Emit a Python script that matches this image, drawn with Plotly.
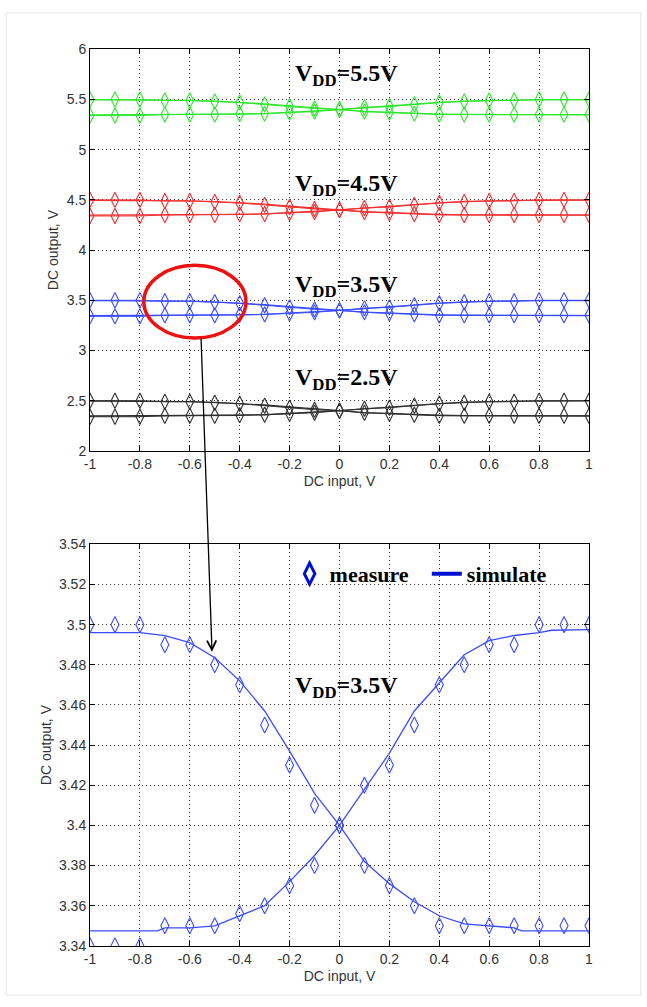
import plotly.graph_objects as go

# ---------------- data ----------------
x_meas = [-1.0, -0.9, -0.8, -0.7, -0.6, -0.5, -0.4, -0.3, -0.2, -0.1, 0.0,
          0.1, 0.2, 0.3, 0.4, 0.5, 0.6, 0.7, 0.8, 0.9, 1.0]
meas_down = [3.50, 3.50, 3.50, 3.49, 3.49, 3.48, 3.47, 3.45, 3.43, 3.41, 3.40,
             3.38, 3.37, 3.36, 3.35, 3.35, 3.35, 3.35, 3.35, 3.35, 3.35]
meas_up = [3.34, 3.34, 3.34, 3.35, 3.35, 3.35, 3.356, 3.36, 3.37, 3.38, 3.40,
           3.42, 3.43, 3.45, 3.47, 3.48, 3.49, 3.49, 3.50, 3.50, 3.50]

sim_down_x = [-1.0, -0.8, -0.7, -0.6, -0.5, -0.4, -0.3, -0.2, -0.1, 0.0,
              0.1, 0.2, 0.3, 0.4, 0.5, 0.6, 0.7, 0.73, 1.0]
sim_down_y = [3.496, 3.496, 3.4945, 3.491, 3.4835, 3.472, 3.457, 3.437, 3.416, 3.400,
              3.382, 3.371, 3.362, 3.355, 3.351, 3.350, 3.349, 3.3475, 3.3475]
sim_up_x = [-1.0, -0.73, -0.7, -0.6, -0.5, -0.4, -0.3, -0.2, -0.1, 0.0,
            0.1, 0.2, 0.3, 0.4, 0.5, 0.6, 0.7, 0.8, 0.85, 1.0]
sim_up_y = [3.3475, 3.3475, 3.349, 3.349, 3.350, 3.355, 3.360, 3.372, 3.385, 3.400,
            3.418, 3.436, 3.457, 3.471, 3.485, 3.492, 3.4946, 3.496, 3.4972, 3.4975]

ref_vdd = 3.5
vdd_levels = [2.5, 3.5, 4.5, 5.5]
vdd_labels = ["V<sub>DD</sub>=2.5V", "V<sub>DD</sub>=3.5V", "V<sub>DD</sub>=4.5V", "V<sub>DD</sub>=5.5V"]
vdd_colors = ["#303030", "#3a4cff", "#f03030", "#2ee62e"]

x_ticks = [-1, -0.8, -0.6, -0.4, -0.2, 0, 0.2, 0.4, 0.6, 0.8, 1]
x_ticktext = ["-1", "-0.8", "-0.6", "-0.4", "-0.2", "0", "0.2", "0.4", "0.6", "0.8", "1"]
top_yticks = [2, 2.5, 3, 3.5, 4, 4.5, 5, 5.5, 6]
top_yticktext = ["2", "2.5", "3", "3.5", "4", "4.5", "5", "5.5", "6"]
bot_yticks = [3.34, 3.36, 3.38, 3.40, 3.42, 3.44, 3.46, 3.48, 3.50, 3.52, 3.54]
bot_yticktext = ["3.34", "3.36", "3.38", "3.4", "3.42", "3.44", "3.46", "3.48", "3.5", "3.52", "3.54"]

# ---------------- figure ----------------
fig = go.Figure()

# top plot: all supply voltages
for vdd, col in zip(vdd_levels, vdd_colors):
    shift = vdd - ref_vdd
    for sx, sy in ((sim_down_x, sim_down_y), (sim_up_x, sim_up_y)):
        fig.add_trace(go.Scatter(x=sx, y=[v + shift for v in sy], mode="lines",
                                 line=dict(color=col, width=1.3), showlegend=False,
                                 xaxis="x", yaxis="y", hoverinfo="skip"))
    for my in (meas_down, meas_up):
        fig.add_trace(go.Scatter(x=x_meas, y=[v + shift for v in my], mode="lines+markers",
                                 line=dict(color=col, width=1),
                                 marker=dict(symbol="diamond-tall-open", size=11,
                                             color=col, line=dict(width=1.1, color=col)),
                                 showlegend=False, xaxis="x", yaxis="y"))

# bottom plot: VDD = 3.5 V zoom
blue = "#3a4cff"
for sx, sy in ((sim_down_x, sim_down_y), (sim_up_x, sim_up_y)):
    fig.add_trace(go.Scatter(x=sx, y=sy, mode="lines", line=dict(color=blue, width=1.3),
                             showlegend=False, xaxis="x2", yaxis="y2"))
for my in (meas_down, meas_up):
    fig.add_trace(go.Scatter(x=x_meas, y=my, mode="markers",
                             marker=dict(symbol="diamond-tall-open", size=11.5, color=blue,
                                         line=dict(width=1.1, color=blue)),
                             showlegend=False, xaxis="x2", yaxis="y2"))

# legend entries
fig.add_trace(go.Scatter(x=[None], y=[None], mode="markers", name="measure",
                         marker=dict(symbol="diamond-tall-open", size=15, color="#0010d0",
                                     line=dict(width=3, color="#0010d0")),
                         xaxis="x2", yaxis="y2", legend="legend"))
fig.add_trace(go.Scatter(x=[None], y=[None], mode="lines", name="simulate",
                         line=dict(color="#0010d0", width=4), xaxis="x2", yaxis="y2",
                         legend="legend2"))

tickfont = dict(family="Liberation Sans, Arial, sans-serif", size=14, color="#333")
titlefont = dict(family="Liberation Sans, Arial, sans-serif", size=14, color="#333")
common = dict(showline=True, linecolor="black", linewidth=1, mirror="allticks",
              ticks="inside", ticklen=5, tickcolor="black", showgrid=True,
              gridcolor="#333", griddash="1px,3px", gridwidth=1.2, zeroline=False,
              tickfont=tickfont)

leg_font = dict(family="Liberation Serif, Times New Roman, serif", size=22,
                color="black", weight="bold")

fig.update_layout(
    width=647, height=1007,
    margin=dict(l=90, r=58, t=0, b=0),
    paper_bgcolor="white", plot_bgcolor="white",
    xaxis=dict(domain=[0, 1], range=[-1, 1], tickvals=x_ticks, ticktext=x_ticktext,
               anchor="y", title=dict(text="DC input, V", font=titlefont, standoff=5), **common),
    yaxis=dict(domain=[0.5531, 0.9583], range=[2, 6], tickvals=top_yticks,
               ticktext=top_yticktext, anchor="x",
               title=dict(text="DC output, V", font=titlefont, standoff=4), **common),
    xaxis2=dict(domain=[0, 1], range=[-1, 1], tickvals=x_ticks, ticktext=x_ticktext,
                anchor="y2", title=dict(text="DC input, V", font=titlefont, standoff=5), **common),
    yaxis2=dict(domain=[0.0536, 0.4588], range=[3.34, 3.54], tickvals=bot_yticks,
                ticktext=bot_yticktext, anchor="x2",
                title=dict(text="DC output, V", font=titlefont, standoff=4), **common),
    legend=dict(orientation="h", x=0.40, y=0.429, xanchor="left", yanchor="middle",
                bgcolor="rgba(0,0,0,0)", font=leg_font, itemwidth=30),
    legend2=dict(orientation="h", x=0.675, y=0.429, xanchor="left", yanchor="middle",
                 bgcolor="rgba(0,0,0,0)", font=leg_font, itemwidth=30),
    showlegend=True,
)

ann_font = dict(family="Liberation Serif, Times New Roman, serif", size=24, color="black",
                weight="bold")
top_label_y = [2.714, 3.643, 4.65, 5.74]
for lab, ly in zip(vdd_labels, top_label_y):
    fig.add_annotation(x=0.03, y=ly, xref="x", yref="y", text=lab, showarrow=False,
                       font=ann_font)
fig.add_annotation(x=0.03, y=3.469, xref="x2", yref="y2", text=vdd_labels[1],
                   showarrow=False, font=ann_font)

# arrow from the highlighted region to the zoomed plot
fig.add_annotation(x=-0.511, y=3.4865, xref="x2", yref="y2", text="", showarrow=True,
                   ax=-11, ay=-315, arrowhead=5, arrowsize=1.4, arrowwidth=1.3,
                   arrowcolor="black")

# red ellipse marking the zoom region
fig.add_shape(type="circle", xref="x", yref="y", x0=-0.784, x1=-0.375, y0=3.125, y1=3.848,
              line=dict(color="#ee1111", width=3.5))
# faint outer frame
fig.add_shape(type="rect", xref="paper", yref="paper", x0=-0.168, x1=1.104, y0=0.004,
              y1=0.995, line=dict(color="#e3e3e3", width=1))

fig.write_html("out.html")
